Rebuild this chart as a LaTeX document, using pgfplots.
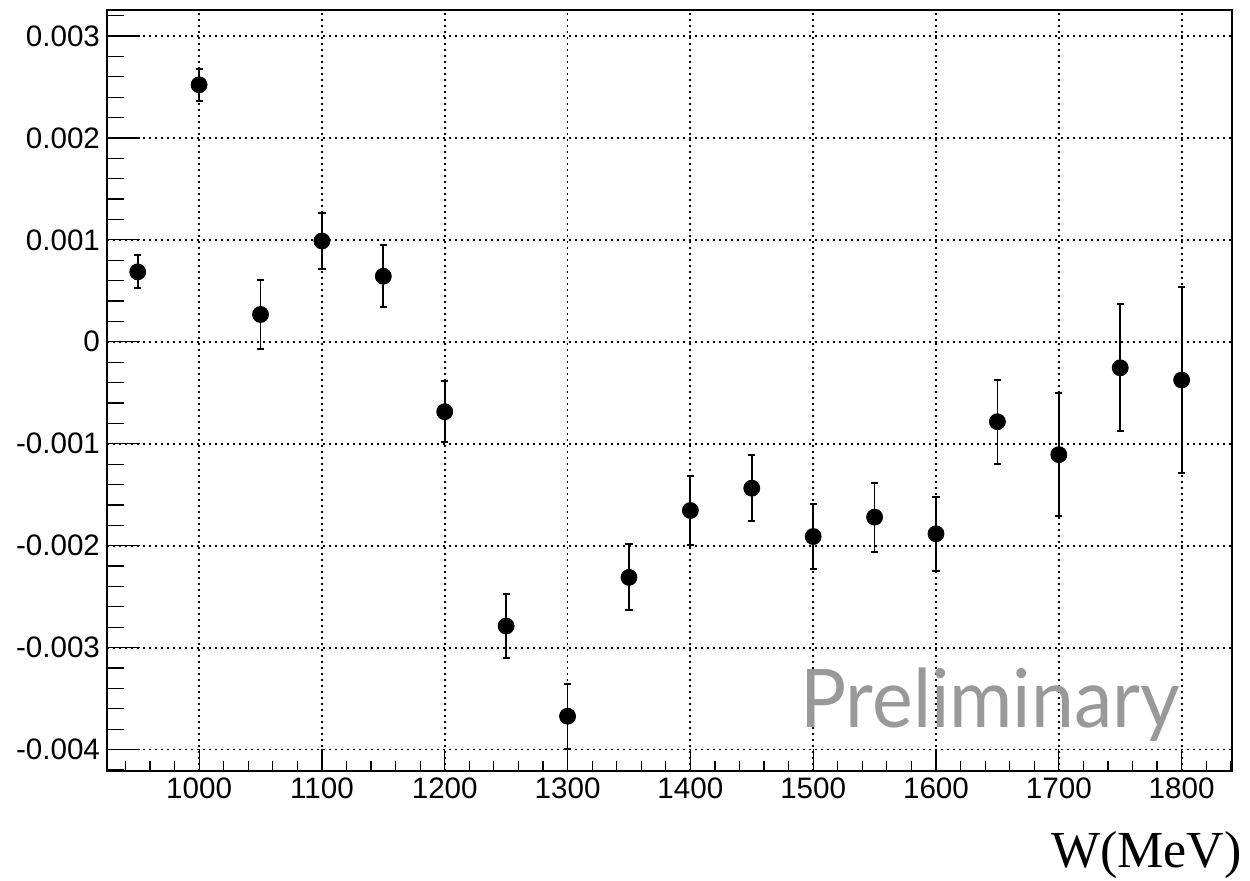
\documentclass[border=0pt]{standalone}
\usepackage{fontspec}
\setmainfont{Liberation Sans}
\newfontfamily\serifW{Liberation Serif}
\newfontfamily\wmark{Lato}
\usepackage{pgfplots}
\usepackage{pgfplotstable}
\pgfplotsset{compat=1.18}

% asymmetry vs. W, with statistical errors
\pgfplotstableread{
W        A          err
950      0.000686   0.000163
1000     0.002521   0.000159
1050     0.000268   0.000343
1100     0.000989   0.000274
1150     0.000643   0.000302
1200    -0.000686   0.000298
1250    -0.002788   0.000313
1300    -0.003673   0.000320
1350    -0.002311   0.000323
1400    -0.001655   0.000343
1450    -0.001436   0.000322
1500    -0.001910   0.000323
1550    -0.001720   0.000338
1600    -0.001883   0.000364
1650    -0.000784   0.000413
1700    -0.001107   0.000600
1750    -0.000255   0.000622
1800    -0.000375   0.000911
}\datatable

\begin{document}
\begin{tikzpicture}
\path[use as bounding box] (-53.5pt,-55pt) rectangle (571.5pt,385.5pt);
\begin{axis}[
  name=ax,
  at={(0,0)}, anchor=south west,
  scale only axis,
  width=562.5pt, height=380.5pt,
  xmin=925, xmax=1841,
  ymin=-0.00421, ymax=0.003255,
  axis line style={line width=1pt},
  tick align=inside,
  xtick pos=bottom, ytick pos=left,
  xtick={1000,1100,...,1800},
  minor xtick={940,960,...,1840},
  ytick={-0.004,-0.003,-0.002,-0.001,0,0.001,0.002,0.003},
  yticklabels={-0.004,-0.003,-0.002,-0.001,0,0.001,0.002,0.003},
  minor ytick={-0.0042,-0.0040,...,0.0033},
  scaled y ticks=false,
  /pgf/number format/1000 sep={},
  /pgf/number format/assume math mode=true,
  ticklabel style={font=\fontsize{14.8pt}{17pt}\selectfont},
  xtick style={line width=0.6pt, black, /pgfplots/major tick length=11pt, /pgfplots/minor tick length=5pt},
  ytick style={line width=0.6pt, black, /pgfplots/major tick length=16.5pt, /pgfplots/minor tick length=8.5pt},
  xmajorgrids, ymajorgrids,
  major grid style={black, line width=0.9pt, dash pattern=on 0.9pt off 2.1pt},
  clip=false,
]
\addplot[only marks, mark=*, mark size=4pt, black,
  error bars/.cd, y dir=both, y explicit,
  error bar style={line width=0.9pt, black},
  error mark options={rotate=90, mark size=1.8pt, line width=1pt}]
  table[x=W, y=A, y error=err]{\datatable};
\end{axis}
\node[anchor=base west, text=black!40, inner sep=0pt, xscale=0.95, font=\wmark\fontsize{40.5pt}{41pt}\selectfont] at (346.5pt,21.5pt) {Preliminary};
\node[anchor=base east, inner sep=0pt, font=\serifW\fontsize{26pt}{30pt}\selectfont] at (567.5pt,-48.5pt) {W(MeV)};
\end{tikzpicture}
\end{document}
